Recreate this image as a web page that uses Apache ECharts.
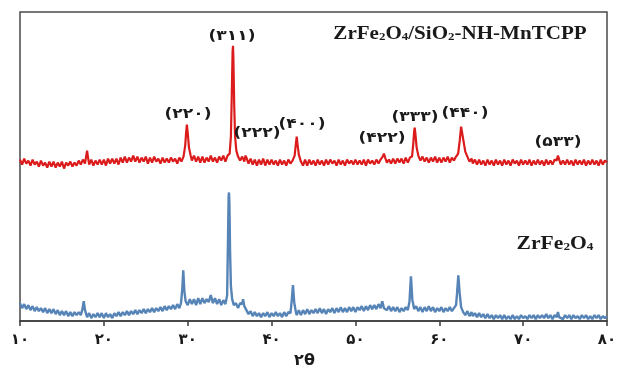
<!DOCTYPE html>
<html>
<head>
<meta charset="utf-8">
<script src="https://cdn.jsdelivr.net/npm/echarts@6/dist/echarts.min.js"></script>
<style>html,body{margin:0;padding:0;background:#fff}#c{width:624px;height:374px}</style>
</head>
<body>
<div id="c"></div>
<script>
// x axis ticks (2θ, degrees) and their Persian labels
const xTicks = [10, 20, 30, 40, 50, 60, 70, 80];
const xTickLabels = ['۱۰', '۲۰', '۳۰', '۴۰', '۵۰', '۶۰', '۷۰', '۸۰'];
const xName = '۲θ';

// peak labels (hkl) shown above the upper pattern
const peakLabels = ['(۲۲۰)', '(۳۱۱)', '(۲۲۲)', '(۴۰۰)', '(۴۲۲)', '(۳۳۳)', '(۴۴۰)', '(۵۳۳)'];

// ZrFe2O4/SiO2-NH-MnTCPP pattern (2θ, offset intensity a.u.)
const redPattern = [
[10.00,162],[10.25,157],[10.50,163],[10.75,158],[11.00,161],[11.25,156],[11.50,162],[11.75,157],
[12.00,160],[12.25,155],[12.50,161],[12.75,156],[13.00,159],[13.25,154],[13.50,160],[13.75,155],
[14.00,160],[14.25,154],[14.50,159],[14.75,155],[15.00,160],[15.25,153],[15.50,159],[15.75,156],
[16.00,160],[16.25,155],[16.50,159],[16.75,156],[17.00,161],[17.25,157],[17.50,162],[17.75,158],
[17.90,166],[18.00,171],[18.10,165],[18.25,157],[18.50,162],[18.75,156],[19.00,161],[19.25,157],
[19.50,162],[19.75,157],[20.00,162],[20.25,156],[20.50,163],[20.75,158],[21.00,163],[21.25,158],
[21.50,163],[21.75,157],[22.00,164],[22.25,159],[22.50,165],[22.75,159],[23.00,164],[23.25,160],
[23.50,166],[23.75,160],[24.00,165],[24.25,159],[24.50,164],[24.75,160],[25.00,165],[25.25,158],
[25.50,164],[25.75,159],[26.00,165],[26.25,160],[26.50,163],[26.75,158],[27.00,164],[27.25,159],
[27.50,163],[27.75,159],[28.00,164],[28.25,160],[28.50,163],[28.75,158],[29.00,164],[29.25,160],
[29.50,165],[29.70,176],[29.80,188],[29.90,197],[30.00,189],[30.15,174],[30.35,166],[30.50,161],
[30.75,166],[31.00,160],[31.25,165],[31.50,159],[31.75,165],[32.00,159],[32.25,164],[32.50,160],
[32.75,166],[33.00,160],[33.25,164],[33.50,159],[33.75,165],[34.00,161],[34.25,166],[34.50,160],
[34.75,166],[35.00,168],[35.15,185],[35.25,225],[35.35,270],[35.40,276],[35.45,262],[35.55,215],
[35.65,185],[35.80,171],[36.00,165],[36.25,161],[36.50,165],[36.75,160],[36.90,166],[36.95,168],
[37.05,163],[37.25,158],[37.50,163],[37.75,157],[38.00,162],[38.25,156],[38.50,162],[38.75,157],
[39.00,163],[39.25,156],[39.50,162],[39.75,157],[40.00,162],[40.25,157],[40.50,161],[40.75,156],
[41.00,162],[41.25,157],[41.50,161],[41.75,156],[42.00,162],[42.25,158],[42.50,161],[42.75,166],
[42.90,178],[43.00,185],[43.10,177],[43.25,167],[43.50,160],[43.75,156],[44.00,162],[44.25,156],
[44.50,162],[44.75,157],[45.00,161],[45.25,156],[45.50,162],[45.75,157],[46.00,161],[46.25,156],
[46.50,162],[46.75,157],[47.00,162],[47.25,158],[47.50,161],[47.75,156],[48.00,162],[48.25,157],
[48.50,161],[48.75,156],[49.00,162],[49.25,158],[49.50,161],[49.75,157],[50.00,162],[50.25,157],
[50.50,161],[50.75,157],[51.00,162],[51.25,156],[51.50,162],[51.75,158],[52.00,161],[52.25,157],
[52.50,162],[52.75,158],[53.00,162],[53.25,165],[53.40,168],[53.55,164],[53.75,159],[54.00,162],
[54.25,158],[54.50,163],[54.75,158],[55.00,163],[55.25,159],[55.50,163],[55.75,158],[56.00,164],
[56.25,159],[56.50,164],[56.75,165],[56.90,178],[57.00,190],[57.07,194],[57.15,188],[57.30,174],
[57.50,166],[57.75,161],[58.00,165],[58.25,160],[58.50,164],[58.75,159],[59.00,164],[59.25,160],
[59.50,165],[59.75,159],[60.00,164],[60.25,159],[60.50,164],[60.75,160],[61.00,165],[61.25,159],
[61.50,164],[61.75,161],[62.00,165],[62.25,168],[62.45,182],[62.60,195],[62.67,197],[62.75,193],
[62.90,180],[63.10,170],[63.35,165],[63.60,160],[63.85,163],[64.00,158],[64.25,162],[64.50,157],
[64.75,162],[65.00,157],[65.25,161],[65.50,156],[65.75,162],[66.00,157],[66.25,161],[66.50,156],
[66.75,162],[67.00,157],[67.25,161],[67.50,156],[67.75,162],[68.00,157],[68.25,161],[68.50,156],
[68.75,162],[69.00,158],[69.25,161],[69.50,156],[69.75,162],[70.00,157],[70.25,161],[70.50,157],
[70.75,162],[71.00,156],[71.25,161],[71.50,157],[71.75,162],[72.00,157],[72.25,161],[72.50,156],
[72.75,162],[73.00,157],[73.25,161],[73.50,157],[73.75,162],[74.00,161],[74.15,166],[74.30,162],
[74.50,157],[74.75,161],[75.00,157],[75.25,162],[75.50,157],[75.75,161],[76.00,156],[76.25,162],
[76.50,157],[76.75,161],[77.00,157],[77.25,162],[77.50,156],[77.75,161],[78.00,157],[78.25,162],
[78.50,157],[78.75,161],[79.00,156],[79.25,162],[79.50,157],[79.75,161],[80.00,159]
];

// ZrFe2O4 pattern (2θ, intensity a.u.)
const bluePattern = [
[10.00,18],[10.25,13],[10.50,17],[10.75,12],[11.00,16],[11.25,11],[11.50,15],[11.75,10],
[12.00,14],[12.25,10],[12.50,13],[12.75,9],[13.00,13],[13.25,8],[13.50,12],[13.75,8],
[14.00,12],[14.25,7],[14.50,11],[14.75,6],[15.00,10],[15.25,6],[15.50,10],[15.75,5],
[16.00,9],[16.25,5],[16.50,9],[16.75,6],[17.00,9],[17.25,6],[17.45,12],[17.60,20],
[17.75,11],[18.00,4],[18.25,8],[18.50,3],[18.75,7],[19.00,4],[19.25,8],[19.50,4],
[19.75,8],[20.00,3],[20.25,8],[20.50,4],[20.75,7],[21.00,3],[21.25,8],[21.50,5],
[21.75,9],[22.00,5],[22.25,9],[22.50,6],[22.75,10],[23.00,6],[23.25,10],[23.50,7],
[23.75,11],[24.00,7],[24.25,11],[24.50,8],[24.75,12],[25.00,8],[25.25,12],[25.50,9],
[25.75,13],[26.00,9],[26.25,13],[26.50,10],[26.75,14],[27.00,10],[27.25,15],[27.50,11],
[27.75,15],[28.00,12],[28.25,16],[28.50,12],[28.75,17],[29.00,13],[29.20,18],[29.35,32],
[29.47,51],[29.60,30],[29.75,20],[30.00,16],[30.25,22],[30.50,17],[30.75,22],[31.00,16],
[31.25,23],[31.50,17],[31.75,23],[32.00,18],[32.25,22],[32.50,19],[32.75,26],[33.00,18],
[33.25,23],[33.50,17],[33.75,22],[34.00,16],[34.25,21],[34.50,17],[34.70,26],[34.80,80],
[34.88,125],[34.92,129],[34.97,118],[35.05,70],[35.15,35],[35.30,22],[35.50,16],[35.75,18],
[36.00,13],[36.25,18],[36.50,17],[36.60,22],[36.75,15],[37.00,11],[37.25,7],[37.50,10],
[37.75,5],[38.00,9],[38.25,5],[38.50,8],[38.75,4],[39.00,8],[39.25,5],[39.50,9],
[39.75,4],[40.00,8],[40.25,5],[40.50,9],[40.75,5],[41.00,8],[41.25,4],[41.50,9],
[41.75,5],[42.00,9],[42.25,8],[42.40,20],[42.55,36],[42.70,19],[42.90,9],[43.00,6],
[43.25,11],[43.50,6],[43.75,11],[44.00,7],[44.25,12],[44.50,7],[44.75,11],[45.00,8],
[45.25,12],[45.50,8],[45.75,13],[46.00,8],[46.25,12],[46.50,7],[46.75,12],[47.00,9],
[47.25,13],[47.50,8],[47.75,13],[48.00,9],[48.25,14],[48.50,9],[48.75,13],[49.00,9],
[49.25,14],[49.50,10],[49.75,14],[50.00,9],[50.25,14],[50.50,11],[50.75,15],[51.00,10],
[51.25,15],[51.50,11],[51.75,16],[52.00,12],[52.25,16],[52.50,12],[52.75,17],[53.00,13],
[53.20,20],[53.40,13],[53.60,15],[53.75,11],[54.00,15],[54.25,10],[54.50,14],[54.75,10],
[55.00,14],[55.25,9],[55.50,13],[55.75,10],[56.00,14],[56.25,11],[56.45,20],[56.62,45],
[56.78,22],[57.00,12],[57.25,15],[57.50,10],[57.75,14],[58.00,9],[58.25,14],[58.50,10],
[58.75,15],[59.00,10],[59.25,14],[59.50,9],[59.75,13],[60.00,10],[60.25,14],[60.50,9],
[60.75,13],[61.00,10],[61.25,14],[61.50,10],[61.75,13],[62.00,16],[62.12,28],[62.27,46],
[62.42,29],[62.60,14],[62.85,9],[63.10,6],[63.35,10],[63.60,5],[63.85,9],[64.00,5],
[64.25,8],[64.50,4],[64.75,8],[65.00,4],[65.25,7],[65.50,3],[65.75,7],[66.00,3],
[66.25,6],[66.50,2],[66.75,6],[67.00,3],[67.25,6],[67.50,2],[67.75,6],[68.00,2],
[68.25,5],[68.50,2],[68.75,6],[69.00,2],[69.25,5],[69.50,2],[69.75,6],[70.00,3],
[70.25,5],[70.50,2],[70.75,6],[71.00,3],[71.25,6],[71.50,2],[71.75,6],[72.00,3],
[72.25,6],[72.50,3],[72.75,7],[73.00,3],[73.25,6],[73.50,2],[73.75,6],[74.00,4],
[74.15,9],[74.30,4],[74.50,6],[74.75,2],[75.00,6],[75.25,3],[75.50,6],[75.75,2],
[76.00,6],[76.25,3],[76.50,5],[76.75,2],[77.00,6],[77.25,3],[77.50,6],[77.75,2],
[78.00,5],[78.25,2],[78.50,6],[78.75,3],[79.00,6],[79.25,2],[79.50,5],[79.75,3],[80.00,5]
];

const chart = echarts.init(document.getElementById('c'), null, {renderer: 'canvas'});

const labelFont = 'bold 14px "DejaVu Sans"';
const labelPos = [[188,114],[232,36],[257,133],[302,124],[382,138],[415,117],[465,113],[558,142]];
const graphics = peakLabels.map((t, i) => ({
  type: 'text', x: labelPos[i][0], y: labelPos[i][1], z: 10, scaleX: 1.22,
  style: {text: t, font: labelFont, fill: '#1a1a1a', align: 'center', verticalAlign: 'middle'}
}));
const rich = {
  n: {font: 'bold 18px "Liberation Serif"', fill: '#1a1a1a', verticalAlign: 'bottom', lineHeight: 20},
  s: {font: 'bold 11px "Liberation Serif"', fill: '#1a1a1a', verticalAlign: 'bottom', lineHeight: 18}
};
graphics.push({
  type: 'text', x: 460, y: 33, z: 10, scaleX: 1.17,
  style: {text: '{n|ZrFe}{s|2}{n|O}{s|4}{n|/SiO}{s|2}{n|-NH-MnTCPP}', rich: rich, align: 'center', verticalAlign: 'middle'}
});
graphics.push({
  type: 'text', x: 555, y: 243, z: 10, scaleX: 1.2,
  style: {text: '{n|ZrFe}{s|2}{n|O}{s|4}', rich: rich, align: 'center', verticalAlign: 'middle'}
});

chart.setOption({
  animation: false,
  backgroundColor: '#fff',
  grid: {left: 20, right: 17, top: 12, bottom: 52, show: true, borderColor: '#4a4a4a', borderWidth: 1.5},
  xAxis: {
    type: 'value', min: 10, max: 80, interval: 10,
    name: xName, nameLocation: 'middle', nameGap: 30,
    nameTextStyle: {fontFamily: 'DejaVu Sans', fontWeight: 'bold', fontSize: 16, color: '#1a1a1a', padding: [0, 18, 0, 0]},
    axisLine: {lineStyle: {color: '#3a3a3a', width: 1.5}},
    axisTick: {length: 5, lineStyle: {color: '#3a3a3a', width: 1.5}},
    axisLabel: {
      margin: 12, fontFamily: 'DejaVu Sans', fontWeight: 'bold', fontSize: 15, color: '#1a1a1a',
      formatter: v => xTickLabels[xTicks.indexOf(v)] || ''
    },
    splitLine: {show: false}
  },
  yAxis: {type: 'value', min: 0, max: 310, show: false, splitLine: {show: false}},
  series: [
    {type: 'line', data: redPattern, showSymbol: false, lineStyle: {color: '#dc1c1c', width: 2.2}, z: 3},
    {type: 'line', data: bluePattern, showSymbol: false, lineStyle: {color: '#5684b6', width: 2.4}, z: 2}
  ],
  graphic: graphics
});
</script>
</body>
</html>
